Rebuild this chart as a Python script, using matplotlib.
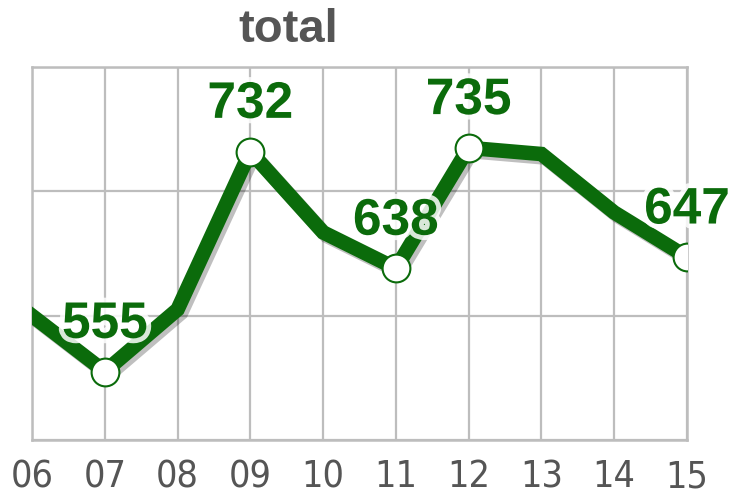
import matplotlib
matplotlib.use("Agg")
import matplotlib.pyplot as plt
import matplotlib.patheffects as pe
from matplotlib import font_manager

# data
years = ["06", "07", "08", "09", "10", "11", "12", "13", "14", "15"]
totals = [600, 555, 605, 732, 667, 638, 735, 730, 683, 647]
labelled = [1, 3, 5, 6, 9]  # points that get a marker + value label

green = "#0b6b0b"
grid_grey = "#bdbdbd"

# tick labels in the reference use a narrow face; pick one if there is one
narrow = None
for f in font_manager.fontManager.ttflist:
    if ("Narrow" in f.name or "Condensed" in f.name or "condensed" in str(f.stretch)) \
            and f.style == "normal" and f.weight in (400, "normal", "regular"):
        narrow = f
        break
if narrow is not None:
    tick_font = font_manager.FontProperties(fname=narrow.fname, size=27)
else:
    tick_font = font_manager.FontProperties(family=["Liberation Sans", "DejaVu Sans"], size=24)

fig = plt.figure(figsize=(7.31, 4.98), dpi=100)
ax = fig.add_axes([32 / 731, 58 / 498, 655 / 731, 373 / 498])

x = list(range(len(years)))
ax.plot(x, totals, color=green, lw=10.5, solid_joinstyle="miter", zorder=3,
        path_effects=[pe.SimpleLineShadow(offset=(2.5, -2.5), shadow_color="black", alpha=0.25),
                      pe.Normal()])

mx = [x[i] for i in labelled]
my = [totals[i] for i in labelled]
ax.plot(mx, my, ls="none", marker="o", ms=20, mfc="white", mec=green, mew=1.5, zorder=4)

for i in labelled:
    ax.annotate(str(totals[i]), (x[i], totals[i]), xytext=(0, 34), textcoords="offset points",
                ha="center", va="center", fontsize=37, fontweight="bold", color=green,
                family=["Liberation Sans", "DejaVu Sans"], zorder=5,
                path_effects=[pe.withStroke(linewidth=7, foreground="white", alpha=0.85)])

ax.set_xlim(0, len(years) - 1)
ax.set_ylim(500, 800)
ax.set_xticks(x)
ax.set_xticklabels(years, color="#555555", fontproperties=tick_font)
ax.set_yticks([500, 600, 700, 800])
ax.set_yticklabels([])
ax.tick_params(axis="both", length=0, pad=14)
ax.grid(True, color=grid_grey, lw=1.6)
ax.set_axisbelow(True)
for s in ax.spines.values():
    s.set_color(grid_grey)
    s.set_linewidth(1.8)

fig.text(288 / 731, 1 - 30 / 498, "total", ha="center", va="center", fontsize=34,
         fontweight="bold", color="#555555", family=["Liberation Sans", "DejaVu Sans"])

fig.savefig("out.png", dpi=100)
